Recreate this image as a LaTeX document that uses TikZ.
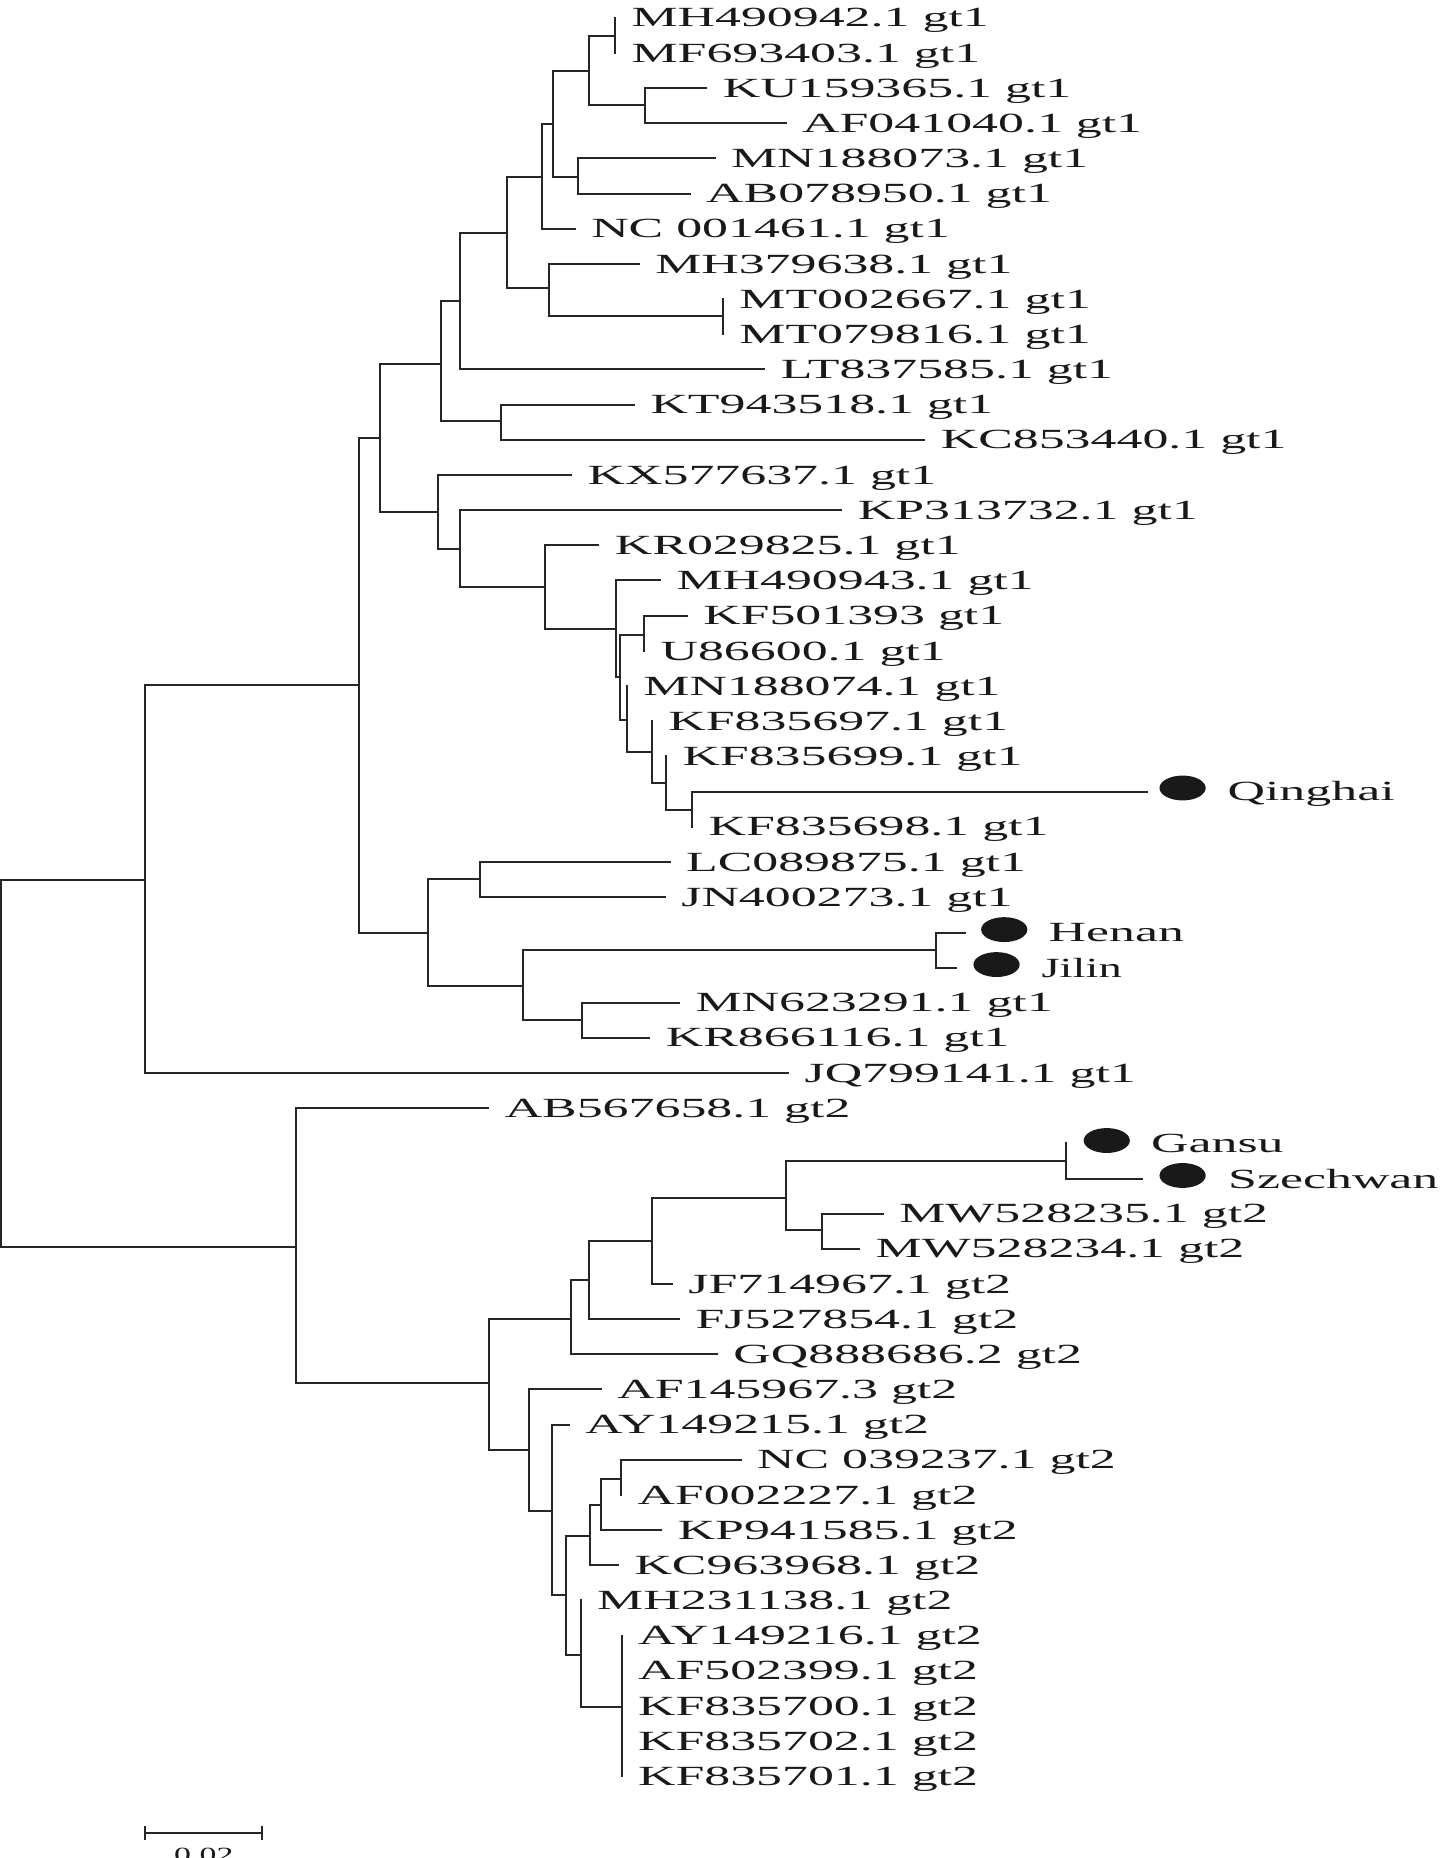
\documentclass[tikz,border=0pt]{standalone}
\usepackage{fontspec}
\setmainfont[FakeStretch=1.87]{Liberation Serif}
\newfontfamily\narrowserif[FakeStretch=1.68]{Liberation Serif}
\usetikzlibrary{shapes.geometric}
\tikzset{
  leaf/.style={anchor=west,inner xsep=14pt,inner ysep=0pt,outer sep=0pt,text height=17pt,text depth=1.5pt,text=black!90,font=\fontsize{23.4}{28}\selectfont},
  tag/.style={leaf,inner xsep=0pt},
  dot/.style={ellipse,fill=black!90,draw=none,minimum width=39pt,minimum height=21pt,inner sep=0pt,outer sep=0pt},
  branch/.style={draw=black!85,line width=1.7pt,line cap=rect},
  scaletext/.style={inner sep=0pt,text=black!90,font=\narrowserif\fontsize{17}{20}\selectfont}
}
\newcommand{\lf}[4]{\node[leaf] (#1) at (#2,{15+29.68*#3}) {#4};}
\newcommand{\nd}[3]{\coordinate (#1) at (#2,#3);}
\newcommand{\kids}[2]{\foreach \c in {#2} {\draw[branch] (#1) |- (\c);}}
\begin{document}
\begin{tikzpicture}[x=1pt,y=-1pt]
\path[use as bounding box] (0,0) rectangle (1217,1568);
\clip (0,0) rectangle (1217,1568);
% internal nodes, gt1
\nd{root}{1}{897}
\nd{a}{122}{743}
\nd{b}{303}{578}
\nd{c}{321}{370}
\nd{d}{372}{307}
\nd{e}{388}{254}
\nd{f}{428}{197}
\nd{g}{457}{149}
\nd{h}{467}{105}
\nd{i}{497}{60}
\nd{j}{519}{30}
\nd{k}{544}{89}
\nd{l}{488}{149}
\nd{m}{463}{243}
\nd{n}{610}{267}
\nd{o}{423}{355}
\nd{p}{370}{432}
\nd{q}{388}{463}
\nd{r}{460}{495}
\nd{s}{519.5}{531}
\nd{t}{523}{571}
\nd{u}{543.5}{536}
\nd{v}{529}{608}
\nd{w}{550}{635}
\nd{xx}{562}{661}
\nd{yy}{584}{683.5}
\nd{aa}{361}{787}
\nd{ab}{405}{742}
\nd{ac}{441}{832}
\nd{ad}{789.5}{802}
\nd{ae}{491}{861}
% internal nodes, gt2
\nd{ba}{250}{1052}
\nd{bb}{413}{1167}
\nd{bc}{482}{1113}
\nd{bd}{497}{1080}
\nd{be}{550}{1047}
\nd{bf}{663}{1011}
\nd{bg}{900}{980}
\nd{bh}{694}{1038}
\nd{bi}{446.5}{1224}
\nd{bj}{466}{1275}
\nd{bk}{477.5}{1346}
\nd{bl}{498}{1296}
\nd{bm}{507.5}{1270}
\nd{bn}{524}{1248}
\nd{bo}{490}{1396.5}
\nd{bp}{524.5}{1440.5}
% leaves
\lf{l0}{519}{0}{MH490942.1 gt1}
\lf{l1}{519}{1}{MF693403.1 gt1}
\lf{l2}{596}{2}{KU159365.1 gt1}
\lf{l3}{663}{3}{AF041040.1 gt1}
\lf{l4}{603}{4}{MN188073.1 gt1}
\lf{l5}{582}{5}{AB078950.1 gt1}
\lf{l6}{485}{6}{NC 001461.1 gt1}
\lf{l7}{539}{7}{MH379638.1 gt1}
\lf{l8}{610}{8}{MT002667.1 gt1}
\lf{l9}{610}{9}{MT079816.1 gt1}
\lf{l10}{645}{10}{LT837585.1 gt1}
\lf{l11}{535}{11}{KT943518.1 gt1}
\lf{l12}{780}{12}{KC853440.1 gt1}
\lf{l13}{482}{13}{KX577637.1 gt1}
\lf{l14}{710}{14}{KP313732.1 gt1}
\lf{l15}{505}{15}{KR029825.1 gt1}
\lf{l16}{557}{16}{MH490943.1 gt1}
\lf{l17}{579.5}{17}{KF501393 gt1}
\lf{l18}{543.5}{18}{U86600.1 gt1}
\lf{l19}{529}{19}{MN188074.1 gt1}
\lf{l20}{550}{20}{KF835697.1 gt1}
\lf{l21}{562}{21}{KF835699.1 gt1}
\lf{l23}{584}{23}{KF835698.1 gt1}
\lf{l24}{565}{24}{LC089875.1 gt1}
\lf{l25}{561}{25}{JN400273.1 gt1}
\lf{l28}{573}{28}{MN623291.1 gt1}
\lf{l29}{548}{29}{KR866116.1 gt1}
\lf{l30}{665}{30}{JQ799141.1 gt1}
\lf{l31}{412}{31}{AB567658.1 gt2}
\lf{l34}{745}{34}{MW528235.1 gt2}
\lf{l35}{725}{35}{MW528234.1 gt2}
\lf{l36}{567}{36}{JF714967.1 gt2}
\lf{l37}{573}{37}{FJ527854.1 gt2}
\lf{l38}{605}{38}{GQ888686.2 gt2}
\lf{l39}{507}{39}{AF145967.3 gt2}
\lf{l40}{480}{40}{AY149215.1 gt2}
\lf{l41}{625}{41}{NC 039237.1 gt2}
\lf{l42}{524}{42}{AF002227.1 gt2}
\lf{l43}{558}{43}{KP941585.1 gt2}
\lf{l44}{521.5}{44}{KC963968.1 gt2}
\lf{l45}{490}{45}{MH231138.1 gt2}
\lf{l46}{524.5}{46}{AY149216.1 gt2}
\lf{l47}{524.5}{47}{AF502399.1 gt2}
\lf{l48}{524.5}{48}{KF835700.1 gt2}
\lf{l49}{524.5}{49}{KF835702.1 gt2}
\lf{l50}{524.5}{50}{KF835701.1 gt2}
% sample tips, dots and tags
\nd{tq}{968}{668}
\nd{the}{814}{787}
\nd{tji}{807}{817}
\nd{tga}{900}{965}
\nd{tsz}{964}{995}
\node[dot] (dq) at (998,665) {};
\node[dot] (dhe) at (847.5,784.5) {};
\node[dot] (dji) at (841,814) {};
\node[dot] (dga) at (934,962.5) {};
\node[dot] (dsz) at (998,992) {};
\node[tag] (nq) at (1036,668) {Qinghai};
\node[tag] (nhe) at (885,787) {Henan};
\node[tag] (nji) at (879,817) {\narrowserif Jilin};
\node[tag] (nga) at (971.5,965) {Gansu};
\node[tag] (nsz) at (1036.5,995) {Szechwan};
% branches
\kids{root}{a,ba}
\kids{a}{b,l30.west}
\kids{b}{c,aa}
\kids{c}{d,p}
\kids{d}{e,o}
\kids{e}{f,l10.west}
\kids{f}{g,m}
\kids{g}{h,l6.west}
\kids{h}{i,l}
\kids{i}{j,k}
\kids{j}{l0.west,l1.west}
\kids{k}{l2.west,l3.west}
\kids{l}{l4.west,l5.west}
\kids{m}{l7.west,n}
\kids{n}{l8.west,l9.west}
\kids{o}{l11.west,l12.west}
\kids{p}{l13.west,q}
\kids{q}{l14.west,r}
\kids{r}{l15.west,s}
\kids{s}{l16.west,t}
\kids{t}{u,v}
\kids{u}{l17.west,l18.west}
\kids{v}{l19.west,w}
\kids{w}{l20.west,xx}
\kids{xx}{l21.west,yy}
\kids{yy}{tq,l23.west}
\kids{aa}{ab,ac}
\kids{ab}{l24.west,l25.west}
\kids{ac}{ad,ae}
\kids{ad}{the,tji}
\kids{ae}{l28.west,l29.west}
\kids{ba}{l31.west,bb}
\kids{bb}{bc,bi}
\kids{bc}{bd,l38.west}
\kids{bd}{be,l37.west}
\kids{be}{bf,l36.west}
\kids{bf}{bg,bh}
\kids{bg}{tga,tsz}
\kids{bh}{l34.west,l35.west}
\kids{bi}{l39.west,bj}
\kids{bj}{l40.west,bk}
\kids{bk}{bl,bo}
\kids{bl}{bm,l44.west}
\kids{bm}{bn,l43.west}
\kids{bn}{l41.west,l42.west}
\kids{bo}{l45.west,bp}
\kids{bp}{l46.west,l47.west,l48.west,l49.west,l50.west}
% scale bar
\coordinate (sa) at (122,1547);
\coordinate (sb) at (221,1547);
\draw[branch,line cap=butt] (sa) -- (sb);
\draw[branch,line cap=butt] ([yshift=-6pt]sa) -- ([yshift=6pt]sa);
\draw[branch,line cap=butt] ([yshift=-6pt]sb) -- ([yshift=6pt]sb);
\node[scaletext,anchor=base] (st) at (172,1571) {0.02};
\end{tikzpicture}
\end{document}
